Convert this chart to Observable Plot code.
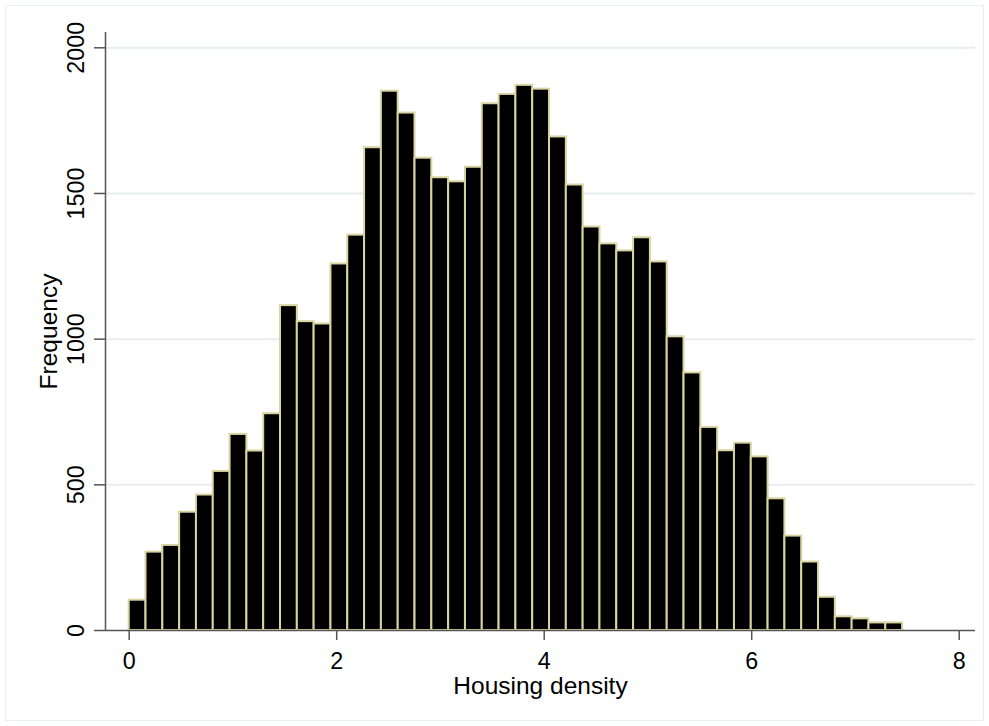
<!DOCTYPE html>
<html><head><meta charset="utf-8">
<script src="https://cdn.jsdelivr.net/npm/d3@7"></script>
<script src="https://cdn.jsdelivr.net/npm/@observablehq/plot@0.6"></script>
<style>
body{margin:0;background:#fff;}
#wrap{position:relative;width:989px;height:726px;}
#border{position:absolute;left:5px;top:5px;width:977px;height:714px;border:1px solid #e9eff1;pointer-events:none;}
svg{display:block}
</style></head><body><div id="wrap"><div id="border"></div></div>
<script>
// Histogram bar counts (46 bins starting at 0)
const counts = [104, 269, 292, 406, 465, 546, 673, 616, 744, 1115, 1060, 1052, 1258, 1357, 1657, 1851, 1776, 1621, 1554, 1540, 1590, 1808, 1840, 1871, 1858, 1694, 1529, 1385, 1327, 1303, 1348, 1265, 1008, 884, 697, 617, 643, 596, 452, 324, 235, 114, 47, 40, 26, 26];
const binStart = 0;
const binWidth = 0.16205;
const xTicks = [0, 2, 4, 6, 8];
const yTicks = [0, 500, 1000, 1500, 2000];
const xLabel = "Housing density";
const yLabel = "Frequency";
const xDomain = [-0.2284, 8.157];
const yDomain = [0, 2052.5];

const bins = counts.map((c, i) => ({x1: binStart + i * binWidth, x2: binStart + (i + 1) * binWidth, count: c}));

const chart = Plot.plot({
  width: 989, height: 726,
  marginLeft: 105, marginRight: 14, marginTop: 32, marginBottom: 96,
  style: {fontFamily: "'Liberation Sans', Arial, sans-serif", background: "transparent", color: "#000"},
  x: {domain: xDomain},
  y: {domain: yDomain},
  marks: [
    Plot.gridY(yTicks.filter(d => d > 0), {stroke: "#e6eef1", strokeOpacity: 1, strokeWidth: 2}),
    Plot.rectY(bins, {x1: "x1", x2: "x2", y1: 0, y2: "count", fill: "#000", stroke: "#d9d4a1", strokeWidth: 2}),
    Plot.ruleY([yDomain[0]], {stroke: "#555", strokeWidth: 1.5}),
    Plot.ruleX([xDomain[0]], {stroke: "#555", strokeWidth: 1.5}),
    Plot.axisX(xTicks, {tickSize: 10, tickPadding: 11.7, fontSize: 23.3, label: null, tickFormat: d => String(d), stroke: "#555", strokeWidth: 1.5, fill: "#000"}),
    Plot.axisY(yTicks, {tickSize: 11, tickPadding: 10.7, tickRotate: -90, textAnchor: "middle", lineAnchor: "bottom", fontSize: 23.3, label: null, tickFormat: d => String(d), stroke: "#555", strokeWidth: 1.5, fill: "#000"}),
    Plot.text([xLabel], {frameAnchor: "bottom", dy: 63.3, textAnchor: "middle", lineAnchor: "bottom", fontSize: 24.5, fill: "#000"}),
    Plot.text([yLabel], {frameAnchor: "left", dx: -49, rotate: -90, textAnchor: "middle", lineAnchor: "bottom", fontSize: 24.5, fill: "#000"})
  ]
});
document.getElementById("wrap").prepend(chart);
</script>
</body></html>
